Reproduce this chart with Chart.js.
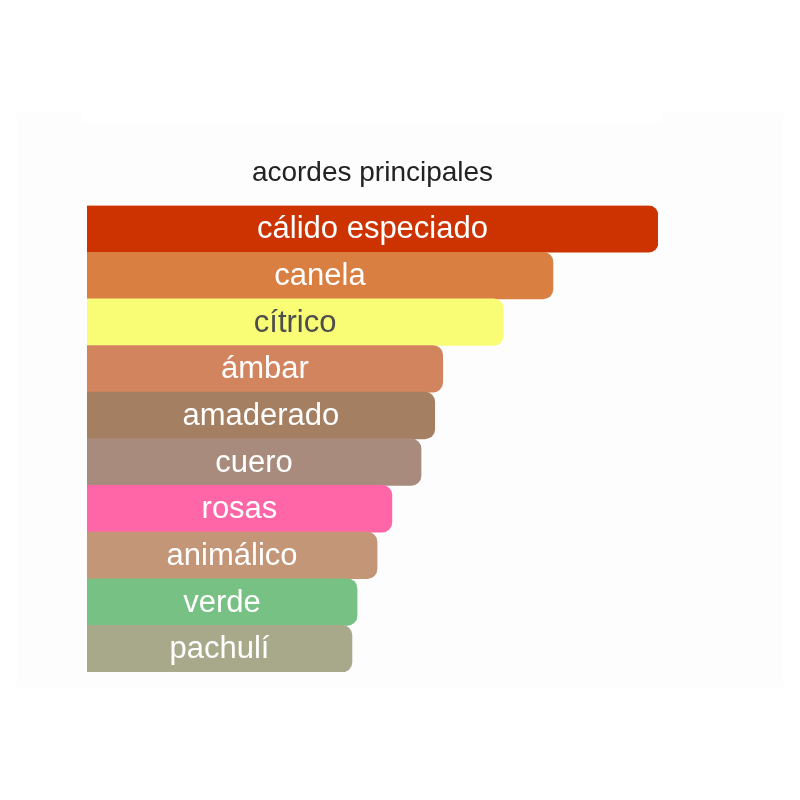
<!DOCTYPE html>
<html>
  <head>
    <meta charset="utf-8">
    <title>acordes principales</title>
    <script src="https://cdn.jsdelivr.net/npm/chart.js@4/dist/chart.umd.min.js"></script>
    <style>
      html, body { margin: 0; padding: 0; background: #fff; }
      #box { position: relative; width: 800px; height: 800px; }
      .pre { font-family: "Liberation Sans"; position: absolute; left: -999px; }
    </style>
  </head>
  <body>
    <span class="pre">acordes principales</span>
    <div id="box"><canvas id="gr1"></canvas></div>
    <script>
    // categories and values (percent of the strongest accord)
    const labels = ['cálido especiado', 'canela', 'cítrico', 'ámbar', 'amaderado',
                    'cuero', 'rosas', 'animálico', 'verde', 'pachulí'];
    const values = [100, 81.6, 72.9, 62.3, 60.9, 58.5, 53.4, 50.8, 47.3, 46.4];
    const barColors = ['#cc3300', '#d97f42', '#f9fc75', '#d2845e', '#a47f62',
                       '#a98b7e', '#ff66a7', '#c39677', '#78c184', '#a8a88a'];
    const textColors = ['#fff', '#fff', '#4d4d4d', '#fff', '#fff',
                        '#fff', '#fff', '#fff', '#fff', '#fff'];

    const fontFam = '"Liberation Sans", Arial, Helvetica, sans-serif';

    // faint panel behind the chart
    const panel = {
      id: 'panel',
      beforeDraw(chart) {
        const c = chart.ctx;
        c.save();
        c.fillStyle = '#fdfdfd';
        c.fillRect(17, 113, 766, 574);
        c.fillStyle = '#fff';
        c.fillRect(82, 113, 580, 10);
        c.restore();
      }
    };

    // label inside each bar, centred
    const barText = {
      id: 'barText',
      afterDatasetsDraw(chart) {
        const c = chart.ctx;
        const meta = chart.getDatasetMeta(0);
        c.save();
        c.font = '31px ' + fontFam;
        c.textAlign = 'center';
        c.textBaseline = 'middle';
        meta.data.forEach((bar, i) => {
          c.fillStyle = textColors[i];
          c.fillText(labels[i], (bar.base + bar.x) / 2, bar.y + 1);
        });
        c.restore();
      }
    };

    let config = {
      type: 'bar',
      data: {
        labels: labels,
        datasets: [{
          data: values,
          backgroundColor: barColors,
          borderWidth: 0,
          borderRadius: 10,
          borderSkipped: 'start',
          barPercentage: 1,
          categoryPercentage: 1
        }]
      },
      options: {
        indexAxis: 'y',
        responsive: false,
        animation: false,
        layout: { padding: { left: 87, right: 142, top: 140, bottom: 128 } },
        scales: {
          x: { display: false, min: 0, max: 100 },
          y: { display: false }
        },
        plugins: {
          legend: { display: false },
          tooltip: { enabled: false },
          title: {
            display: true,
            text: 'acordes principales',
            color: '#222',
            font: { family: fontFam, size: 28, weight: 'normal' },
            padding: { top: 16, bottom: 16 }
          }
        }
      },
      plugins: [panel, barText]
    };

    var canv = document.getElementById('gr1');
    canv.width = 800;
    canv.height = 800;
    let graph1;
    document.fonts.load('31px "Liberation Sans"').then(() => {
      graph1 = new Chart(canv.getContext('2d'), config);
    });
    </script>
  </body>
</html>
